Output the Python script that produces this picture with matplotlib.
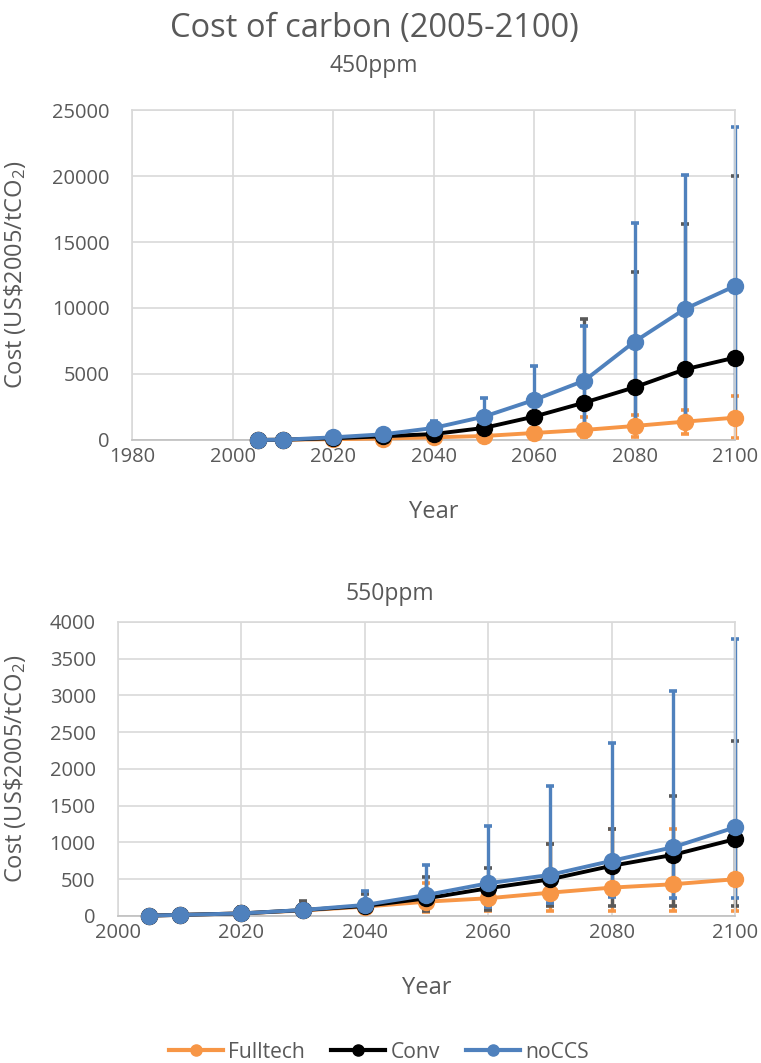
import numpy as np
from matplotlib import pyplot as plt
from matplotlib.lines import Line2D

plt.rcParams['font.family'] = ['Open Sans', 'DejaVu Sans']
plt.rcParams['mathtext.fontset'] = 'custom'
plt.rcParams['mathtext.rm'] = 'Open Sans'

years = [2005, 2010, 2020, 2030, 2040, 2050, 2060, 2070, 2080, 2090, 2100]
series_names = ['Fulltech', 'Conv', 'noCCS']

# 450ppm scenario: mean, low, high
full_450 = [5, 15, 60, 110, 200, 300, 530, 760, 1060, 1390, 1690]
full_450_lo = [3, 10, 40, 70, 120, 150, 300, 200, 250, 430, 130]
full_450_hi = [8, 20, 90, 160, 300, 480, 800, 1770, 1890, 2270, 3330]
conv_450 = [5, 20, 130, 280, 450, 910, 1770, 2830, 3990, 5350, 6240]
conv_450_lo = [3, 10, 60, 110, 200, 300, 530, 760, 1060, 1390, 1690]
conv_450_hi = [8, 30, 200, 430, 900, 1765, 3030, 9170, 12750, 16360, 20000]
nocc_450 = [5, 20, 200, 430, 910, 1765, 3030, 4495, 7450, 9920, 11670]
nocc_450_lo = [3, 10, 130, 280, 450, 910, 1770, 760, 1060, 1390, 1690]
nocc_450_hi = [8, 30, 300, 650, 1450, 3200, 5600, 8660, 16460, 20080, 23740]

# 550ppm scenario: mean, low, high
full_550 = [5, 15, 35, 75, 127, 195, 241, 317, 386, 432, 500]
full_550_lo = [3, 10, 20, 50, 70, 60, 70, 70, 70, 65, 70]
full_550_hi = [8, 25, 50, 100, 170, 445, 445, 975, 1182, 1182, 1045]
conv_550 = [5, 15, 35, 80, 136, 240, 377, 498, 682, 832, 1045]
conv_550_lo = [3, 10, 20, 50, 80, 73, 82, 136, 136, 136, 136]
conv_550_hi = [8, 40, 120, 204, 295, 536, 659, 977, 1182, 1636, 2377]
nocc_550 = [5, 15, 35, 82, 150, 286, 445, 559, 750, 936, 1205]
nocc_550_lo = [3, 10, 25, 60, 136, 240, 127, 173, 264, 241, 241]
nocc_550_hi = [8, 40, 60, 130, 345, 695, 1218, 1764, 2355, 3060, 3773]

colors = ['#F79646', 'black', '#4F81BD']
err_colors = ['#F79646', '#595959', '#4F81BD']
text_col = '#595959'
grid_col = '#D9D9D9'


def draw_panel(ax, data, xticks, yticks):
    # error bars first, so all lines and markers sit on top
    for i, (mean, lo, hi) in enumerate(data):
        mean = np.array(mean)
        yerr = [mean - np.array(lo), np.array(hi) - mean]
        ax.errorbar(years, mean, yerr=yerr, fmt='none', ecolor=err_colors[i],
                    elinewidth=2.4, capsize=3.2, capthick=2.6,
                    zorder=2 + i * 0.1, clip_on=False)
    for i, (mean, lo, hi) in enumerate(data):
        ax.plot(years, mean, '-o', color=colors[i], lw=2.8, ms=11.5,
                label=series_names[i], zorder=3 + i, clip_on=False)
    ax.set_xticks(xticks)
    ax.set_yticks(yticks)
    ax.set_xlim(xticks[0], xticks[-1])
    ax.set_ylim(yticks[0], yticks[-1])
    ax.grid(True, color=grid_col, lw=1.2)
    ax.set_axisbelow(True)
    for s in ax.spines.values():
        s.set_color(grid_col)
        s.set_linewidth(1.2)
    ax.spines['bottom'].set_color('#BFBFBF')
    ax.tick_params(length=0, labelsize=14.5, labelcolor=text_col)
    ax.tick_params(axis='y', pad=16)
    ax.tick_params(axis='x', pad=5)
    ax.set_xlabel('Year', fontsize=17, color=text_col, labelpad=24)
    ax.set_ylabel('Cost (US\\$2005/tCO$\\mathregular{_2}$)', fontsize=17,
                  color=text_col)


fig = plt.figure(figsize=(7.61, 10.63), dpi=100)
ax1 = fig.add_axes([0.1735, 0.5861, 0.7924, 0.3104])
ax2 = fig.add_axes([0.155, 0.1383, 0.8108, 0.2766])

draw_panel(ax1, [(full_450, full_450_lo, full_450_hi),
                 (conv_450, conv_450_lo, conv_450_hi),
                 (nocc_450, nocc_450_lo, nocc_450_hi)],
           np.arange(1980, 2101, 20), np.arange(0, 25001, 5000))
draw_panel(ax2, [(full_550, full_550_lo, full_550_hi),
                 (conv_550, conv_550_lo, conv_550_hi),
                 (nocc_550, nocc_550_lo, nocc_550_hi)],
           np.arange(2000, 2101, 20), np.arange(0, 4001, 500))

ax1.yaxis.set_label_coords((28 - 132) / 603, 0.5)
ax2.yaxis.set_label_coords((28 - 118) / 617, 0.5)

fig.text(374 / 761, 1 - 28 / 1063, 'Cost of carbon (2005-2100)', ha='center',
         va='center', fontsize=23.5, color=text_col)
fig.text(374 / 761, 1 - 66 / 1063, '450ppm', ha='center', va='center',
         fontsize=16.5, color=text_col)
fig.text(390 / 761, 1 - 594 / 1063, '550ppm', ha='center', va='center',
         fontsize=16.5, color=text_col)

handles = [Line2D([], [], color=c, lw=3, marker='o', ms=8) for c in colors]
fig.legend(handles, series_names, loc='center',
           bbox_to_anchor=(379 / 761, 1 - 1052 / 1063),
           ncol=3, frameon=False, fontsize=15.2, labelcolor=text_col,
           handlelength=2.55, columnspacing=1.25, handletextpad=0.25)

fig.savefig('out.png', dpi=100)
